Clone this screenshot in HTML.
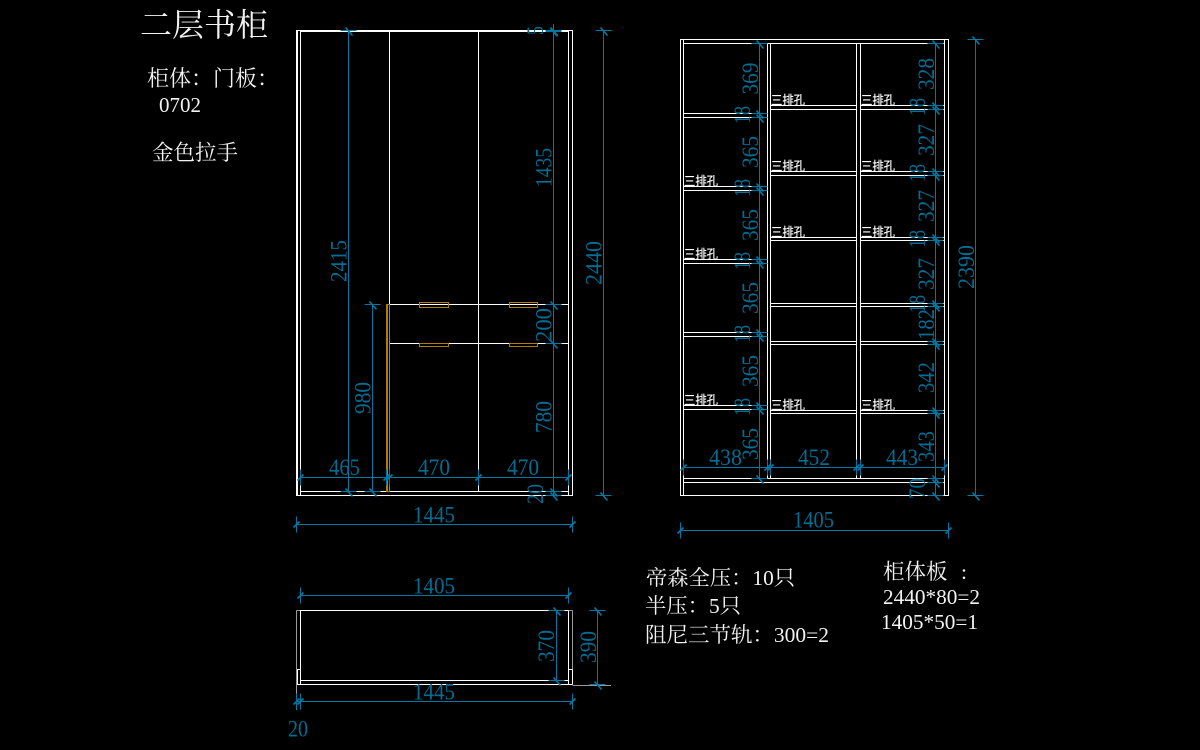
<!DOCTYPE html>
<html><head><meta charset="utf-8"><style>
html,body{margin:0;padding:0;background:#000;width:1200px;height:750px;overflow:hidden}
svg{display:block}
.w path,.w{shape-rendering:crispEdges}
.n text{font-family:"Liberation Serif","Noto Serif CJK SC",serif;font-size:23px;fill:#006d94}
.c{font-family:"Liberation Serif","Noto Serif CJK SC",serif;fill:#f2f2f2}
.k{font-family:"Noto Sans CJK SC",sans-serif;font-size:12.5px;fill:#fff;stroke:#fff;stroke-width:.2}
</style></head><body>
<svg width="1200" height="750" viewBox="0 0 1200 750" xmlns="http://www.w3.org/2000/svg">
<defs>
<g id="v" fill="none" stroke="#0078a3"><path d="M-8 0H8" stroke-width="1"/><path d="M-3-3L4 5" stroke-width="1.7"/></g>
<g id="h" fill="none" stroke="#0078a3"><path d="M0-8V8" stroke-width="1"/><path d="M-3 3L3-3" stroke-width="1.7"/></g>
</defs>
<rect width="1200" height="750" fill="#000"/>

<!-- white linework -->
<g class="w" fill="none" stroke="#fff" stroke-width="1">
<path d="M296.5 30.5H572.5V495.5H296.5Z M297.5 30.5V495.5 M300.5 30.5V495.5 M568.5 30.5V495.5 M300.5 31.5H568.5 M389.5 30.5V304.5 M478.5 30.5V491.5 M386.5 304.5H568.5 M389.5 343.5H568.5 M300.5 491.5H568.5"/>
<path d="M680.5 39.5H948.5V495.5H680.5Z M683.5 39.5V495.5 M944.5 39.5V495.5 M683.5 43.5H944.5 M767.5 43.5V478.5 M770.5 43.5V478.5 M856.5 43.5V478.5 M860.5 43.5V478.5 M683.5 478.5H944.5 M683.5 482.5H944.5"/>
<path d="M683.5 113.5H767.5M683.5 117.5H767.5M683.5 186.5H767.5M683.5 190.5H767.5M683.5 259.5H767.5M683.5 263.5H767.5M683.5 332.5H767.5M683.5 336.5H767.5M683.5 405.5H767.5M683.5 409.5H767.5"/>
<path d="M770.5 105.5H856.5M770.5 109.5H856.5M770.5 171.5H856.5M770.5 175.5H856.5M770.5 237.5H856.5M770.5 240.5H856.5M770.5 303.5H856.5M770.5 306.5H856.5M770.5 341.5H856.5M770.5 344.5H856.5M770.5 410.5H856.5M770.5 413.5H856.5"/>
<path d="M860.5 105.5H944.5M860.5 109.5H944.5M860.5 171.5H944.5M860.5 175.5H944.5M860.5 237.5H944.5M860.5 240.5H944.5M860.5 303.5H944.5M860.5 306.5H944.5M860.5 341.5H944.5M860.5 344.5H944.5M860.5 410.5H944.5M860.5 413.5H944.5"/>
<path d="M300.5 610.5H568.5V684.5H300.5Z M300.5 680.5H568.5 M296.5 669.5H300.5 M568.5 669.5H572.5 M297.5 669.5V684.5 M572.5 669.5V684.5 M296.5 684.5H572.5"/>
<path d="M296.5 610.5V710M572.5 610.5V669M572.5 685.5H611M296.5 610.5H300M568.5 610.5H572.5" stroke="#999"/>
</g>

<!-- orange parts -->
<g class="w" fill="none" stroke="#b07e00" stroke-width="1">
<path d="M386.5 304.5H389.5V491.5H386.5Z M387.5 304.5V491.5"/>
<path d="M419.5 302.5H448.5V307.5H419.5Z M509.5 302.5H537.5V307.5H509.5Z M419.5 343.5H448.5V346.5H419.5Z M509.5 343.5H537.5V346.5H509.5Z"/>
</g>

<!-- dimension lines -->
<g class="w" fill="none" stroke="#0078a3" stroke-width="1">
<path d="M348.5 30V492M372.5 304V492M553.5 24V495M603.5 30V495M300 477.5H568M296 524.5H573"/>
<path d="M759.5 43V478M935.5 43V495M975.5 39V495M683 467.5H945M680 530.5H949"/>
<path d="M300 595.5H569M296 701.5H573M556.5 610V680M597.5 610V685"/>
</g>
<g>
<use href="#v" x="348.5" y="30.5"/><use href="#v" x="348.5" y="491.5"/>
<use href="#v" x="372.5" y="304.5"/><use href="#v" x="372.5" y="491.5"/>
<use href="#v" x="553.5" y="30.5"/><use href="#v" x="553.5" y="31.5"/><use href="#v" x="553.5" y="304.5"/><use href="#v" x="553.5" y="343.5"/><use href="#v" x="553.5" y="491.5"/><use href="#v" x="553.5" y="495.5"/>
<use href="#v" x="603.5" y="30.5"/><use href="#v" x="603.5" y="495.5"/>
<use href="#h" x="300.5" y="477.5"/><use href="#h" x="389.5" y="477.5"/><use href="#h" x="386.5" y="477.5"/><use href="#h" x="478.5" y="477.5"/><use href="#h" x="568.5" y="477.5"/>
<use href="#h" x="296.5" y="524.5"/><use href="#h" x="572.5" y="524.5"/>

<use href="#v" x="759.5" y="43.5"/><use href="#v" x="759.5" y="113.5"/><use href="#v" x="759.5" y="117.5"/><use href="#v" x="759.5" y="186.5"/><use href="#v" x="759.5" y="190.5"/><use href="#v" x="759.5" y="259.5"/><use href="#v" x="759.5" y="263.5"/><use href="#v" x="759.5" y="332.5"/><use href="#v" x="759.5" y="336.5"/><use href="#v" x="759.5" y="405.5"/><use href="#v" x="759.5" y="409.5"/><use href="#v" x="759.5" y="478.5"/>
<use href="#v" x="935.5" y="43.5"/><use href="#v" x="935.5" y="105.5"/><use href="#v" x="935.5" y="109.5"/><use href="#v" x="935.5" y="171.5"/><use href="#v" x="935.5" y="175.5"/><use href="#v" x="935.5" y="237.5"/><use href="#v" x="935.5" y="240.5"/><use href="#v" x="935.5" y="303.5"/><use href="#v" x="935.5" y="306.5"/><use href="#v" x="935.5" y="341.5"/><use href="#v" x="935.5" y="344.5"/><use href="#v" x="935.5" y="410.5"/><use href="#v" x="935.5" y="413.5"/><use href="#v" x="935.5" y="478.5"/><use href="#v" x="935.5" y="482.5"/><use href="#v" x="935.5" y="495.5"/>
<use href="#v" x="975.5" y="39.5"/><use href="#v" x="975.5" y="495.5"/>
<use href="#h" x="683.5" y="467.5"/><use href="#h" x="767.5" y="467.5"/><use href="#h" x="770.5" y="467.5"/><use href="#h" x="856.5" y="467.5"/><use href="#h" x="860.5" y="467.5"/><use href="#h" x="944.5" y="467.5"/>
<use href="#h" x="680.5" y="530.5"/><use href="#h" x="948.5" y="530.5"/>

<use href="#h" x="300.5" y="595.5"/><use href="#h" x="568.5" y="595.5"/>
<use href="#h" x="296.5" y="701.5"/><use href="#h" x="300.5" y="701.5"/><use href="#h" x="572.5" y="701.5"/>
<use href="#v" x="556.5" y="610.5"/><use href="#v" x="556.5" y="680.5"/>
<use href="#v" x="597.5" y="610.5"/><use href="#v" x="597.5" y="684.5"/>
</g>

<!-- dimension text -->
<g class="n">
<text x="329" y="475" textLength="31" lengthAdjust="spacingAndGlyphs">465</text>
<text x="418" y="475" textLength="32" lengthAdjust="spacingAndGlyphs">470</text>
<text x="507" y="475" textLength="32" lengthAdjust="spacingAndGlyphs">470</text>
<text x="413" y="522.5" textLength="42" lengthAdjust="spacingAndGlyphs">1445</text>
<text transform="translate(346.5 282) rotate(-90)" textLength="42" lengthAdjust="spacingAndGlyphs">2415</text>
<text transform="translate(370.5 414) rotate(-90)" textLength="32" lengthAdjust="spacingAndGlyphs">980</text>
<text transform="translate(551.5 187) rotate(-90)" textLength="39" lengthAdjust="spacingAndGlyphs">1435</text>
<text transform="translate(543 35) rotate(-90)" textLength="9" lengthAdjust="spacingAndGlyphs">5</text>
<text transform="translate(551.5 342) rotate(-90)" textLength="34" lengthAdjust="spacingAndGlyphs">200</text>
<text transform="translate(551.5 433) rotate(-90)" textLength="32" lengthAdjust="spacingAndGlyphs">780</text>
<text transform="translate(543 504) rotate(-90)" textLength="20" lengthAdjust="spacingAndGlyphs">20</text>
<text transform="translate(601.5 285) rotate(-90)" textLength="44" lengthAdjust="spacingAndGlyphs">2440</text>

<text transform="translate(758 94.5) rotate(-90)" textLength="32" lengthAdjust="spacingAndGlyphs">369</text>
<text transform="translate(750 124) rotate(-90)" textLength="18" lengthAdjust="spacingAndGlyphs">18</text>
<text transform="translate(758 168) rotate(-90)" textLength="32" lengthAdjust="spacingAndGlyphs">365</text>
<text transform="translate(750 197) rotate(-90)" textLength="18" lengthAdjust="spacingAndGlyphs">18</text>
<text transform="translate(758 241) rotate(-90)" textLength="32" lengthAdjust="spacingAndGlyphs">365</text>
<text transform="translate(750 270) rotate(-90)" textLength="18" lengthAdjust="spacingAndGlyphs">18</text>
<text transform="translate(758 314) rotate(-90)" textLength="32" lengthAdjust="spacingAndGlyphs">365</text>
<text transform="translate(750 343) rotate(-90)" textLength="18" lengthAdjust="spacingAndGlyphs">18</text>
<text transform="translate(758 387) rotate(-90)" textLength="32" lengthAdjust="spacingAndGlyphs">365</text>
<text transform="translate(750 416) rotate(-90)" textLength="18" lengthAdjust="spacingAndGlyphs">18</text>
<text transform="translate(758 460) rotate(-90)" textLength="32" lengthAdjust="spacingAndGlyphs">365</text>

<text transform="translate(934 90) rotate(-90)" textLength="32" lengthAdjust="spacingAndGlyphs">328</text>
<text transform="translate(925 116) rotate(-90)" textLength="18" lengthAdjust="spacingAndGlyphs">18</text>
<text transform="translate(934 156) rotate(-90)" textLength="32" lengthAdjust="spacingAndGlyphs">327</text>
<text transform="translate(925 182) rotate(-90)" textLength="18" lengthAdjust="spacingAndGlyphs">18</text>
<text transform="translate(934 222) rotate(-90)" textLength="32" lengthAdjust="spacingAndGlyphs">327</text>
<text transform="translate(925 248) rotate(-90)" textLength="18" lengthAdjust="spacingAndGlyphs">18</text>
<text transform="translate(934 290) rotate(-90)" textLength="32" lengthAdjust="spacingAndGlyphs">327</text>
<text transform="translate(925 313) rotate(-90)" textLength="18" lengthAdjust="spacingAndGlyphs">18</text>
<text transform="translate(934 340) rotate(-90)" textLength="31" lengthAdjust="spacingAndGlyphs">182</text>
<text transform="translate(934 393) rotate(-90)" textLength="31" lengthAdjust="spacingAndGlyphs">342</text>
<text transform="translate(934 462) rotate(-90)" textLength="31" lengthAdjust="spacingAndGlyphs">343</text>
<text transform="translate(925 499) rotate(-90)" textLength="21" lengthAdjust="spacingAndGlyphs">70</text>
<text transform="translate(974 289) rotate(-90)" textLength="44" lengthAdjust="spacingAndGlyphs">2390</text>

<text x="709" y="465" textLength="33" lengthAdjust="spacingAndGlyphs">438</text>
<text x="798" y="465" textLength="32" lengthAdjust="spacingAndGlyphs">452</text>
<text x="886" y="465" textLength="32" lengthAdjust="spacingAndGlyphs">443</text>
<text x="793" y="527.5" textLength="41" lengthAdjust="spacingAndGlyphs">1405</text>

<text x="413" y="593.5" textLength="42" lengthAdjust="spacingAndGlyphs">1405</text>
<text x="413" y="699.5" textLength="42" lengthAdjust="spacingAndGlyphs">1445</text>
<text transform="translate(554 662) rotate(-90)" textLength="32" lengthAdjust="spacingAndGlyphs">370</text>
<text transform="translate(596 663) rotate(-90)" textLength="32" lengthAdjust="spacingAndGlyphs">390</text>
<text x="288" y="736.5" textLength="20" lengthAdjust="spacingAndGlyphs">20</text>
</g>

<!-- hole labels -->
<g class="k">
<text x="684" y="185.5" textLength="34" lengthAdjust="spacingAndGlyphs">三排孔</text>
<text x="684" y="258.5" textLength="34" lengthAdjust="spacingAndGlyphs">三排孔</text>
<text x="684" y="404.5" textLength="34" lengthAdjust="spacingAndGlyphs">三排孔</text>
<text x="771" y="104.5" textLength="34" lengthAdjust="spacingAndGlyphs">三排孔</text>
<text x="771" y="170.5" textLength="34" lengthAdjust="spacingAndGlyphs">三排孔</text>
<text x="771" y="236.5" textLength="34" lengthAdjust="spacingAndGlyphs">三排孔</text>
<text x="771" y="409.5" textLength="34" lengthAdjust="spacingAndGlyphs">三排孔</text>
<text x="861" y="104.5" textLength="34" lengthAdjust="spacingAndGlyphs">三排孔</text>
<text x="861" y="170.5" textLength="34" lengthAdjust="spacingAndGlyphs">三排孔</text>
<text x="861" y="236.5" textLength="34" lengthAdjust="spacingAndGlyphs">三排孔</text>
<text x="861" y="409.5" textLength="34" lengthAdjust="spacingAndGlyphs">三排孔</text>
</g>

<!-- notes -->
<g class="c">
<text x="140" y="36" font-size="32" textLength="128" lengthAdjust="spacingAndGlyphs">二层书柜</text>
<text x="147" y="86" font-size="22" textLength="132" lengthAdjust="spacingAndGlyphs">柜体&#xFF1A;门板&#xFF1A;</text>
<text x="159" y="112" font-size="21" textLength="42" lengthAdjust="spacingAndGlyphs">0702</text>
<text x="152" y="160" font-size="21.5" textLength="86" lengthAdjust="spacingAndGlyphs">金色拉手</text>
<text x="646" y="585" font-size="21" textLength="149" lengthAdjust="spacingAndGlyphs">帝森全压&#xFF1A;10只</text>
<text x="645" y="613" font-size="21" textLength="96" lengthAdjust="spacingAndGlyphs">半压&#xFF1A;5只</text>
<text x="645" y="642" font-size="21" textLength="184" lengthAdjust="spacingAndGlyphs">阻尼三节轨&#xFF1A;300=2</text>
<text x="883" y="579" font-size="21.5">柜体板</text>
<text x="961" y="579" font-size="21.5">:</text>
<text x="883" y="604" font-size="21" textLength="97" lengthAdjust="spacingAndGlyphs">2440*80=2</text>
<text x="881" y="629" font-size="21" textLength="97" lengthAdjust="spacingAndGlyphs">1405*50=1</text>
</g>
</svg>
</body></html>
